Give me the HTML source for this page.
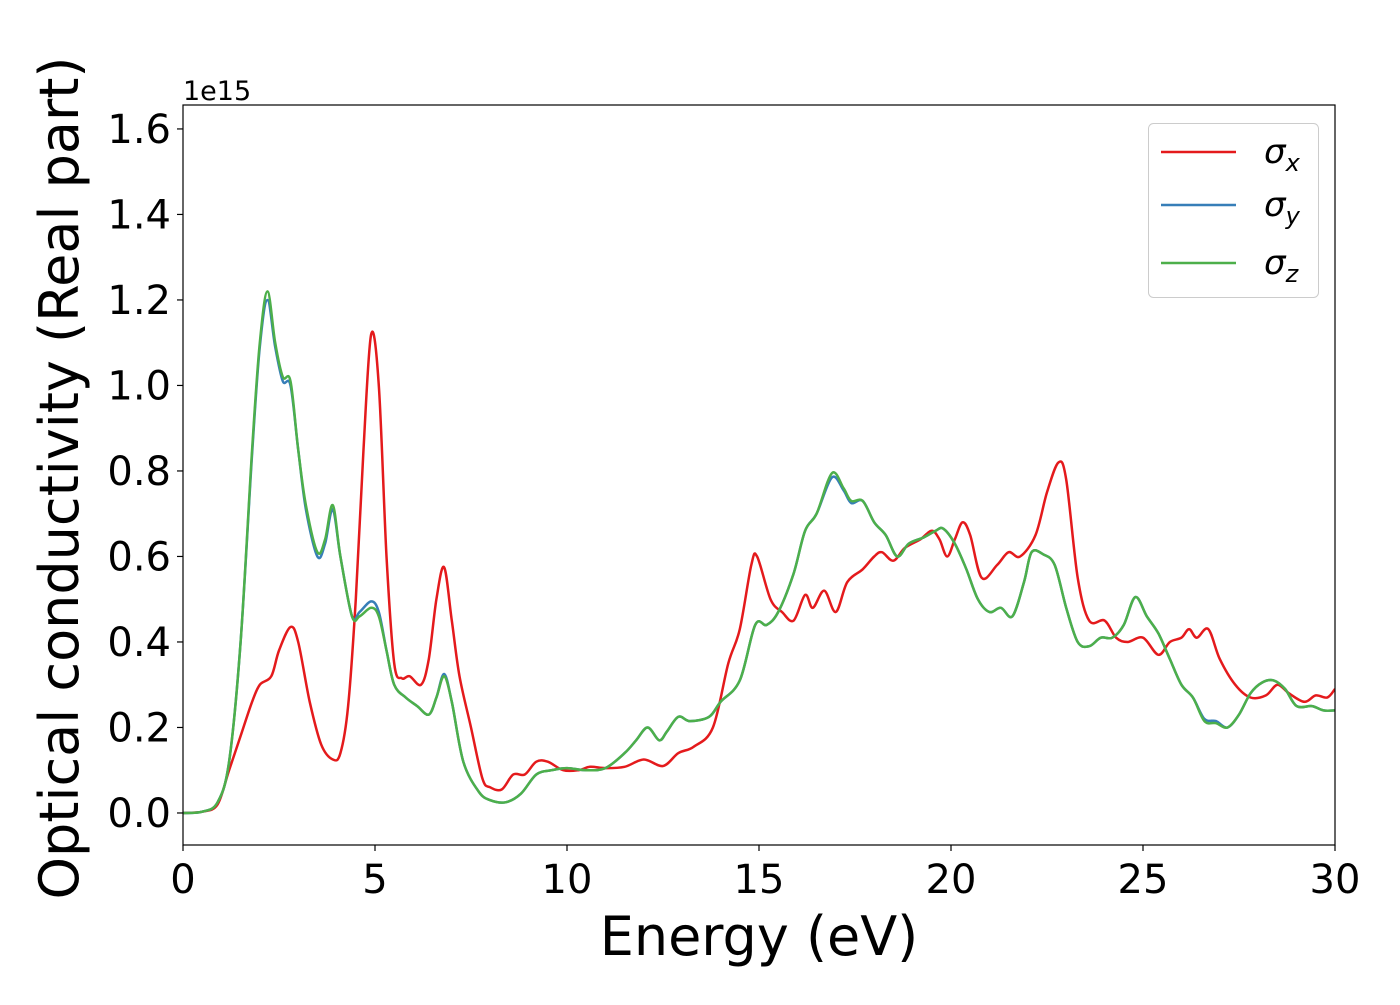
<!DOCTYPE html>
<html><head><meta charset="utf-8"><style>
body{margin:0;background:#fff}
svg text{font-family:"DejaVu Sans","Liberation Sans",sans-serif;fill:#000}
</style></head><body>
<svg id="chart" width="1400" height="1000" xmlns="http://www.w3.org/2000/svg">
<g id="plot"></g>
</svg>
<script>
const xTicks=[0,5,10,15,20,25,30];
const yTicks=[0.0,0.2,0.4,0.6,0.8,1.0,1.2,1.4,1.6];
const sigmaX=[[0,0],[0.5,0.003],[0.9,0.02],[1.2,0.1],[1.5,0.18],[1.8,0.26],[2.0,0.3],[2.3,0.32],[2.5,0.38],[2.8,0.435],[3.0,0.4],[3.3,0.26],[3.6,0.16],[3.9,0.125],[4.1,0.14],[4.3,0.25],[4.5,0.5],[4.7,0.85],[4.9,1.12],[5.1,1.0],[5.3,0.6],[5.5,0.35],[5.7,0.315],[5.9,0.32],[6.2,0.3],[6.4,0.36],[6.6,0.5],[6.8,0.575],[7.0,0.45],[7.2,0.32],[7.5,0.2],[7.8,0.08],[8.0,0.06],[8.3,0.055],[8.6,0.09],[8.9,0.09],[9.2,0.12],[9.5,0.12],[9.9,0.1],[10.3,0.1],[10.6,0.108],[11.0,0.105],[11.5,0.108],[12.0,0.125],[12.5,0.11],[12.9,0.14],[13.3,0.155],[13.8,0.2],[14.2,0.35],[14.5,0.43],[14.8,0.58],[14.95,0.6],[15.3,0.5],[15.6,0.47],[15.9,0.45],[16.2,0.51],[16.4,0.48],[16.7,0.52],[17.0,0.47],[17.3,0.54],[17.7,0.57],[18.0,0.6],[18.2,0.61],[18.5,0.59],[18.8,0.62],[19.2,0.64],[19.5,0.66],[19.7,0.64],[19.9,0.6],[20.1,0.64],[20.3,0.68],[20.5,0.65],[20.8,0.55],[21.2,0.58],[21.5,0.61],[21.8,0.6],[22.2,0.65],[22.5,0.75],[22.8,0.82],[23.0,0.78],[23.3,0.55],[23.6,0.45],[24.0,0.45],[24.3,0.41],[24.6,0.4],[25.0,0.41],[25.4,0.37],[25.7,0.4],[26.0,0.41],[26.2,0.43],[26.4,0.41],[26.7,0.43],[27.0,0.36],[27.4,0.3],[27.8,0.27],[28.2,0.275],[28.5,0.3],[28.8,0.28],[29.2,0.26],[29.5,0.275],[29.8,0.27],[30,0.29]];
const sigmaY=[[0,0],[0.5,0.003],[0.9,0.025],[1.2,0.12],[1.5,0.4],[1.8,0.84],[2.0,1.09],[2.2,1.2],[2.4,1.09],[2.6,1.01],[2.8,1.0],[3.0,0.85],[3.2,0.71],[3.5,0.6],[3.7,0.63],[3.9,0.71],[4.1,0.6],[4.4,0.46],[4.6,0.47],[4.9,0.495],[5.1,0.47],[5.3,0.38],[5.5,0.3],[5.8,0.27],[6.1,0.25],[6.4,0.23],[6.6,0.27],[6.8,0.325],[7.0,0.26],[7.3,0.12],[7.7,0.05],[8.0,0.03],[8.4,0.025],[8.8,0.045],[9.2,0.09],[9.6,0.1],[10.0,0.105],[10.5,0.1],[11.0,0.105],[11.5,0.14],[11.8,0.17],[12.1,0.2],[12.4,0.17],[12.6,0.19],[12.9,0.225],[13.2,0.215],[13.7,0.225],[14.0,0.26],[14.5,0.31],[14.9,0.44],[15.2,0.44],[15.5,0.47],[15.9,0.56],[16.2,0.66],[16.5,0.7],[16.9,0.785],[17.2,0.755],[17.4,0.725],[17.7,0.73],[18.0,0.68],[18.3,0.65],[18.6,0.6],[18.9,0.63],[19.3,0.645],[19.6,0.66],[19.8,0.665],[20.1,0.63],[20.4,0.57],[20.7,0.5],[21.0,0.47],[21.3,0.48],[21.6,0.46],[21.9,0.54],[22.1,0.61],[22.4,0.605],[22.7,0.58],[23.0,0.48],[23.3,0.4],[23.6,0.39],[23.9,0.41],[24.2,0.41],[24.5,0.44],[24.8,0.505],[25.1,0.46],[25.4,0.42],[25.7,0.36],[26.0,0.3],[26.3,0.27],[26.6,0.22],[26.9,0.215],[27.2,0.2],[27.5,0.23],[27.8,0.28],[28.1,0.305],[28.4,0.31],[28.7,0.29],[29.0,0.25],[29.4,0.25],[29.7,0.24],[30,0.24]];
const sigmaZ=[[0,0],[0.5,0.003],[0.9,0.025],[1.2,0.12],[1.5,0.4],[1.8,0.85],[2.0,1.1],[2.2,1.22],[2.4,1.1],[2.6,1.02],[2.8,1.01],[3.0,0.85],[3.2,0.72],[3.5,0.61],[3.7,0.64],[3.9,0.72],[4.1,0.6],[4.4,0.46],[4.6,0.46],[4.9,0.48],[5.1,0.46],[5.3,0.38],[5.5,0.3],[5.8,0.27],[6.1,0.25],[6.4,0.23],[6.6,0.27],[6.8,0.32],[7.0,0.26],[7.3,0.12],[7.7,0.05],[8.0,0.03],[8.4,0.025],[8.8,0.045],[9.2,0.09],[9.6,0.1],[10.0,0.105],[10.5,0.1],[11.0,0.105],[11.5,0.14],[11.8,0.17],[12.1,0.2],[12.4,0.17],[12.6,0.19],[12.9,0.225],[13.2,0.215],[13.7,0.225],[14.0,0.26],[14.5,0.31],[14.9,0.44],[15.2,0.44],[15.5,0.47],[15.9,0.56],[16.2,0.66],[16.5,0.7],[16.9,0.795],[17.2,0.76],[17.4,0.73],[17.7,0.73],[18.0,0.68],[18.3,0.65],[18.6,0.6],[18.9,0.63],[19.3,0.645],[19.6,0.66],[19.8,0.665],[20.1,0.63],[20.4,0.57],[20.7,0.5],[21.0,0.47],[21.3,0.48],[21.6,0.46],[21.9,0.54],[22.1,0.61],[22.4,0.605],[22.7,0.58],[23.0,0.48],[23.3,0.4],[23.6,0.39],[23.9,0.41],[24.2,0.41],[24.5,0.44],[24.8,0.505],[25.1,0.46],[25.4,0.42],[25.7,0.36],[26.0,0.3],[26.3,0.27],[26.6,0.215],[26.9,0.21],[27.2,0.2],[27.5,0.23],[27.8,0.28],[28.1,0.305],[28.4,0.31],[28.7,0.29],[29.0,0.25],[29.4,0.25],[29.7,0.24],[30,0.24]];
const seriesNames=["x","y","z"];
const seriesColors=["#e41a1c","#377eb8","#4daf4a"];

const L=183,R=1335,T=105,B=845;
const xMin=0,xMax=30,yMin=-0.0749,yMax=1.656;
const sx=v=>L+(v-xMin)/(xMax-xMin)*(R-L);
const sy=v=>B-(v-yMin)/(yMax-yMin)*(B-T);
const NS="http://www.w3.org/2000/svg";
const g=document.getElementById('plot');
function mk(t,a,p){const e=document.createElementNS(NS,t);for(const k in a)e.setAttribute(k,a[k]);(p||g).appendChild(e);return e;}
function pathFor(d){
  const p=d.map(q=>[sx(q[0]),sy(q[1])]);
  let s="M"+p[0][0].toFixed(1)+","+p[0][1].toFixed(1);
  for(let i=0;i<p.length-1;i++){
    const p0=p[Math.max(0,i-1)],p1=p[i],p2=p[i+1],p3=p[Math.min(p.length-1,i+2)];
    const c1=[p1[0]+(p2[0]-p0[0])/6,p1[1]+(p2[1]-p0[1])/6];
    const c2=[p2[0]-(p3[0]-p1[0])/6,p2[1]-(p3[1]-p1[1])/6];
    s+="C"+c1[0].toFixed(1)+","+c1[1].toFixed(1)+" "+c2[0].toFixed(1)+","+c2[1].toFixed(1)+" "+p2[0].toFixed(1)+","+p2[1].toFixed(1);
  }
  return s;
}
mk('defs',{}).innerHTML='<clipPath id="clip"><rect x="'+L+'" y="'+T+'" width="'+(R-L)+'" height="'+(B-T)+'"/></clipPath>';
const data=[sigmaX,sigmaY,sigmaZ];
data.forEach((d,i)=>{
  const e=mk('path',{d:pathFor(d),fill:'none',stroke:seriesColors[i],'stroke-width':2.5,'clip-path':'url(#clip)'});
  
  
});
const frame=mk('rect',{x:L,y:T,width:R-L,height:B-T,fill:'none',stroke:'#000','stroke-width':1.2});


xTicks.forEach(v=>{
  const x=sx(v);
  mk('line',{x1:x,x2:x,y1:B,y2:B+6,stroke:'#000','stroke-width':1.2});
  const t=mk('text',{x:x,y:B+48,'text-anchor':'middle','font-size':40});
  t.textContent=String(v);
  
  
});
yTicks.forEach(v=>{
  const y=sy(v);
  mk('line',{x1:L-6,x2:L,y1:y,y2:y,stroke:'#000','stroke-width':1.2});
  const t=mk('text',{x:L-12,y:y+14,'text-anchor':'end','font-size':40});
  t.textContent=v.toFixed(1);
  
  
});
const off=mk('text',{x:L,y:T-5,'font-size':27});
off.textContent='1e15';


const xt=mk('text',{x:(L+R)/2,y:955,'text-anchor':'middle','font-size':54});
xt.textContent='Energy (eV)';


const yt=mk('text',{x:0,y:0,'text-anchor':'middle','font-size':54,transform:'translate(78,478) rotate(-90)'});
yt.textContent='Optical conductivity (Real part)';


const lg=mk('g',{});


mk('rect',{x:1148.5,y:123.5,width:170,height:174,rx:5,fill:'#fff','fill-opacity':0.8,stroke:'#ccc','stroke-width':1},lg);
const ly=[152,205,263];
seriesNames.forEach((n,i)=>{
  const e=mk('line',{x1:1161,x2:1236,y1:ly[i],y2:ly[i],stroke:seriesColors[i],'stroke-width':2.5},lg);
  
  
  const t=mk('text',{x:1264,y:ly[i]+11,'font-size':34,'font-style':'italic'},lg);
  t.innerHTML='σ<tspan font-size="24" dy="8">'+n+'</tspan>';
  
  
});
</script>
</body></html>
